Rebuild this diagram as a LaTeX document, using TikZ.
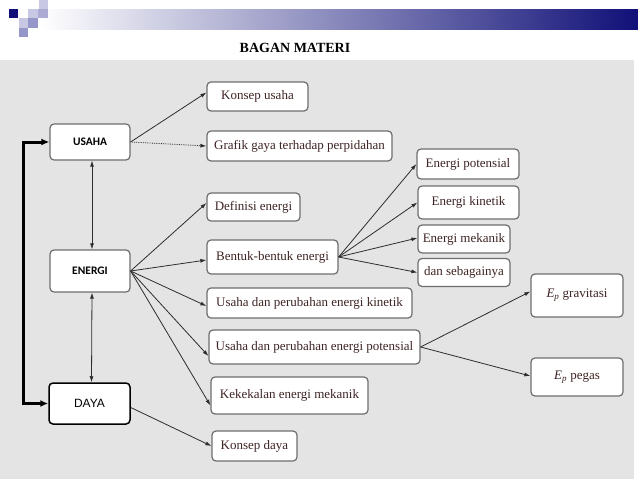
\documentclass[tikz,border=0pt]{standalone}
\usepackage{fontspec}
\setmainfont{Liberation Serif}
\newfontfamily\boldsans{Carlito}
\newfontfamily\plainsans{Liberation Sans}
\usetikzlibrary{arrows.meta}
\definecolor{bggray}{RGB}{228,228,228}
\definecolor{boxline}{RGB}{110,110,110}
\definecolor{boxtext}{RGB}{62,36,36}
\definecolor{arrline}{RGB}{45,45,45}
\definecolor{navy}{RGB}{16,16,120}
\definecolor{lilac}{RGB}{150,150,200}
\definecolor{palelilac}{RGB}{200,200,228}
\begin{document}
\begin{tikzpicture}[x=1pt,y=-1pt,
    box/.style={draw=boxline,line width=1.2pt,fill=white,rounded corners=4pt,
                inner sep=0pt,text=boxtext,font=\fontsize{13}{15}\selectfont},
    mainbox/.style={box,text=black,font=\boldsans\bfseries\fontsize{11.5}{13}\selectfont},
    arr/.style={draw=arrline,line width=0.8pt,-{Latex[length=6pt,width=4pt]}},
    bigarr/.style={draw=black,line width=3pt,{Latex[length=8pt,width=7pt]}-{Latex[length=8pt,width=7pt]}}]

    % background
    \useasboundingbox (0,0) rectangle (638,479);
    \fill[white] (0,0) rectangle (638,60);
    \fill[bggray] (0,60) rectangle (634,479);

    % banner
    \shade[left color=white,right color=navy] (40,9) rectangle (638,29);
    \fill[navy] (9,9) rectangle (18,18);
    \fill[palelilac] (39,0) rectangle (48,9);
    \fill[palelilac] (28,9) rectangle (38,18);
    \fill[lilac!80] (38,9) rectangle (48,18);
    \fill[palelilac] (19,18) rectangle (28,28);
    \fill[lilac] (28,18) rectangle (38,28);
    \fill[lilac] (19,28) rectangle (28,37);

    % title
    \node (title) at (295,48) {\bfseries\fontsize{14}{16}\selectfont BAGAN MATERI};

    % main nodes
    \node[mainbox,minimum width=80,minimum height=36] (usaha) at (90,142) {USAHA};
    \node[mainbox,minimum width=80,minimum height=42] (energi) at (90,271) {ENERGI};
    \node[box,draw=black,line width=1.5pt,text=black,font=\plainsans\fontsize{12}{14}\selectfont,
          minimum width=81,minimum height=41] (daya) at (89.5,403.5) {DAYA};

    % sub nodes
    \node[box,minimum width=101,minimum height=29] (konsep) at (257.5,96.5) {Konsep usaha};
    \node[box,minimum width=185,minimum height=30] (grafik) at (299.5,146) {Grafik gaya terhadap perpidahan};
    \node[box,minimum width=93,minimum height=28] (definisi) at (253.5,207) {Definisi energi};
    \node[box,minimum width=131,minimum height=34] (bentuk) at (272.5,257) {Bentuk-bentuk energi};
    \node[box,minimum width=205,minimum height=30] (ukin) at (309.5,303) {Usaha dan perubahan energi kinetik};
    \node[box,minimum width=211,minimum height=34] (upot) at (314.5,347) {Usaha dan perubahan energi potensial};
    \node[box,minimum width=157,minimum height=37] (kekal) at (289.5,395.5) {Kekekalan energi mekanik};
    \node[box,minimum width=85,minimum height=30] (kdaya) at (254.5,446) {Konsep daya};

    \node[box,minimum width=102,minimum height=30] (epot) at (468,164) {Energi potensial};
    \node[box,minimum width=101,minimum height=33] (ekin) at (468.5,202.5) {Energi kinetik};
    \node[box,minimum width=92,minimum height=28] (emek) at (464,239) {Energi mekanik};
    \node[box,minimum width=92,minimum height=28] (dansb) at (464,272.5) {dan sebagainya};

    \node[box,minimum width=92,minimum height=43] (epg) at (577,295.5) {\textit{E\textsubscript{p}} gravitasi};
    \node[box,minimum width=92,minimum height=38] (epp) at (577,377) {\textit{E\textsubscript{p}} pegas};

    % thick loop
    \coordinate (L) at (23,142);
    \draw[bigarr] (usaha.west) -- (L) |- (daya.west);

    % vertical links
    \draw[arr,{Latex[length=6pt,width=4pt]}-{Latex[length=6pt,width=4pt]}] ([xshift=2]usaha.south) -- ([xshift=2]energi.north);
    \draw[arr,{Latex[length=6pt,width=4pt]}-{Latex[length=6pt,width=4pt]}] ([xshift=2]energi.south) -- ([xshift=2]daya.north);

    % usaha
    \draw[arr] (usaha.east) -- ([yshift=4]konsep.west);
    \draw[arr,densely dotted] (usaha.east) -- (grafik.west);

    % energi
    \draw[arr] (energi.east) -- ([yshift=4]definisi.west);
    \draw[arr] (energi.east) -- ([yshift=-3]bentuk.west);
    \draw[arr] (energi.east) -- ([yshift=-3]ukin.west);
    \draw[arr] (energi.east) -- ([yshift=-9]upot.west);
    \draw[arr] (energi.east) -- ([yshift=-10]kekal.west);

    % bentuk
    \draw[arr] (bentuk.east) -- (epot.west);
    \draw[arr] (bentuk.east) -- (ekin.west);
    \draw[arr] (bentuk.east) -- ([yshift=1]emek.west);
    \draw[arr] (bentuk.east) -- (dansb.west);

    % potensial
    \draw[arr] (upot.east) -- ([yshift=4]epg.west);
    \draw[arr] (upot.east) -- ([yshift=1]epp.west);

    % daya
    \draw[arr] ([yshift=-4]daya.east) -- (kdaya.west);

\end{tikzpicture}
\end{document}
